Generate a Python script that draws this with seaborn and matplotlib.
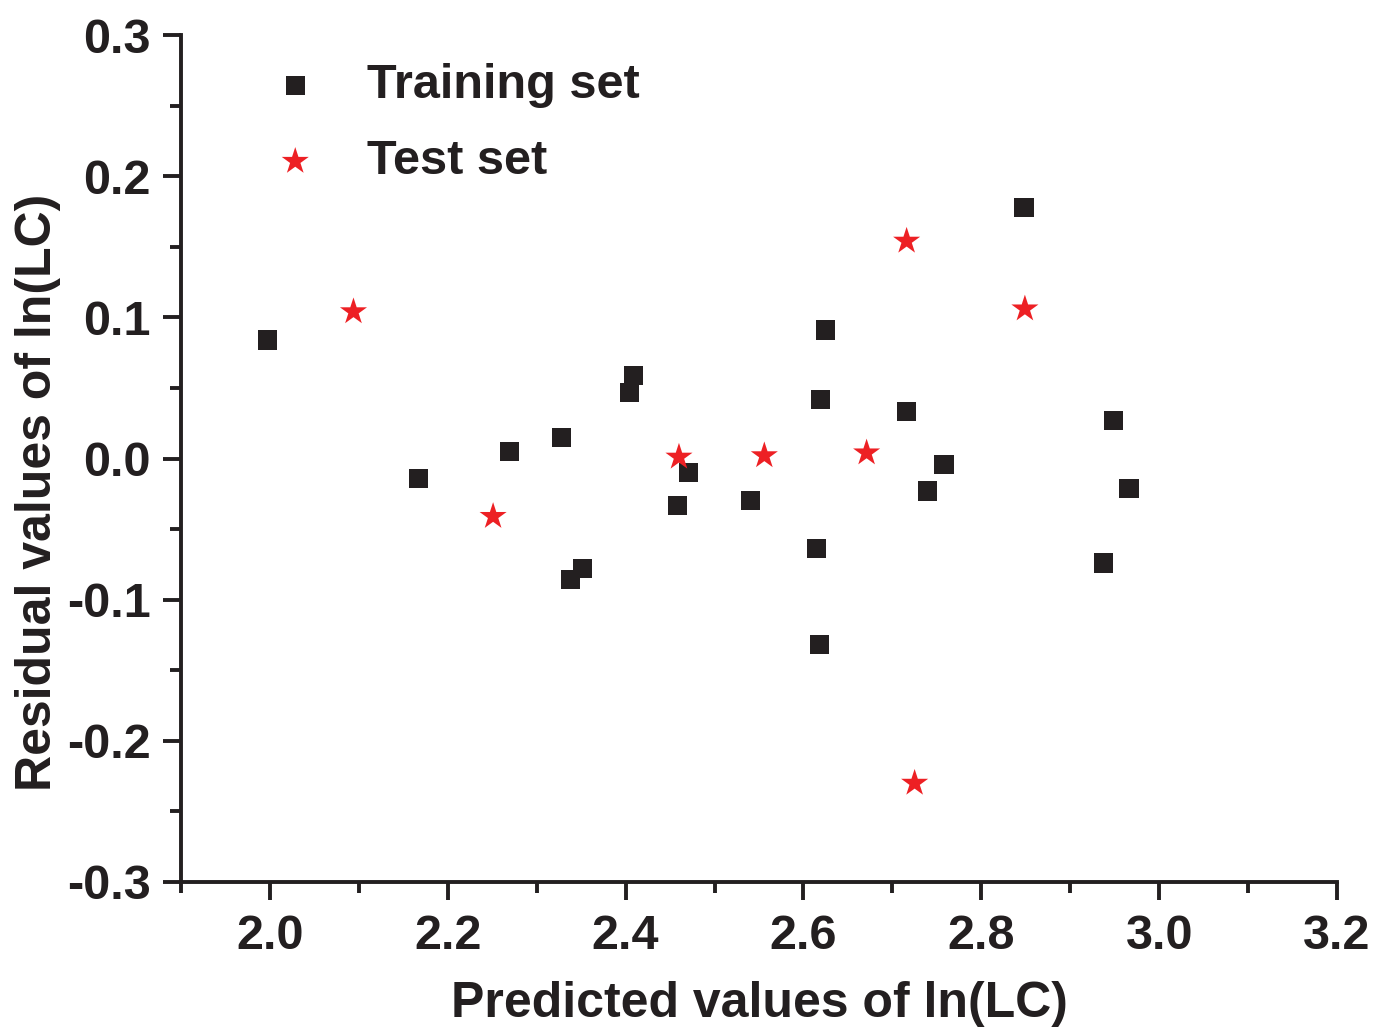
import matplotlib
matplotlib.use("Agg")
import matplotlib.pyplot as plt
import seaborn as sns
import pandas as pd
from matplotlib.ticker import MultipleLocator, FormatStrFormatter

# Training set
train_x = [1.997, 2.167, 2.269, 2.328, 2.338, 2.352, 2.404, 2.409, 2.458, 2.471, 2.540,
           2.615, 2.619, 2.618, 2.625, 2.716, 2.739, 2.758, 2.848, 2.937, 2.949, 2.966]
train_y = [0.084, -0.014, 0.005, 0.015, -0.086, -0.078, 0.047, 0.059, -0.033, -0.010, -0.030,
           -0.064, 0.042, -0.132, 0.091, 0.033, -0.023, -0.004, 0.178, -0.074, 0.027, -0.021]
# Test set
test_x = [2.094, 2.251, 2.460, 2.556, 2.671, 2.716, 2.725, 2.849]
test_y = [0.104, -0.041, 0.001, 0.002, 0.004, 0.154, -0.230, 0.106]

xlabel = "Predicted values of ln(LC)"
ylabel = "Residual values of ln(LC)"

sns.set_style("ticks")
plt.rcParams['font.family'] = ['Liberation Sans', 'DejaVu Sans']
plt.rcParams['font.weight'] = 'bold'

fig = plt.figure(figsize=(13.74, 10.27), dpi=100)
ax = fig.add_axes([0.1317, 0.1412, 0.8414, 0.8247])

df_train = pd.DataFrame({"x": train_x, "y": train_y})
df_test = pd.DataFrame({"x": test_x, "y": test_y})

sns.scatterplot(data=df_train, x="x", y="y", ax=ax, marker="s", s=190,
                color="#231f20", edgecolor="none", label="Training set")
sns.scatterplot(data=df_test, x="x", y="y", ax=ax, marker="*", s=420,
                color="#ed2024", edgecolor="none", label="Test set")

ax.set_xlim(1.9, 3.2)
ax.set_ylim(-0.3, 0.3)
ax.xaxis.set_major_locator(MultipleLocator(0.2))
ax.xaxis.set_minor_locator(MultipleLocator(0.1))
ax.yaxis.set_major_locator(MultipleLocator(0.1))
ax.yaxis.set_minor_locator(MultipleLocator(0.05))
ax.xaxis.set_major_formatter(FormatStrFormatter('%.1f'))
ax.yaxis.set_major_formatter(FormatStrFormatter('%.1f'))

for s in ["top", "right"]:
    ax.spines[s].set_visible(False)
for s in ["left", "bottom"]:
    ax.spines[s].set_linewidth(2.8)
    ax.spines[s].set_color("#231f20")

ax.tick_params(which="major", direction="out", length=13, width=2.8, color="#231f20",
               labelsize=35, labelcolor="#231f20")
ax.tick_params(axis="x", which="major", pad=10)
ax.tick_params(axis="y", which="major", pad=9)
ax.tick_params(which="minor", direction="out", length=8, width=2.8, color="#231f20")
for lab in ax.get_xticklabels() + ax.get_yticklabels():
    lab.set_fontweight("bold")

ax.set_xlabel(xlabel, fontsize=36, fontweight="bold", labelpad=16, color="#231f20")
ax.set_ylabel(ylabel, fontsize=36, fontweight="bold", labelpad=4, color="#231f20")
ax.yaxis.label.set_y(0.46)

leg = ax.legend(loc="upper left", bbox_to_anchor=(0.04, 0.99), frameon=False,
                fontsize=35, handletextpad=0.48, labelspacing=0.64, borderaxespad=0)
for t in leg.get_texts():
    t.set_fontweight("bold")
    t.set_color("#231f20")

fig.savefig("out.png", dpi=100)
